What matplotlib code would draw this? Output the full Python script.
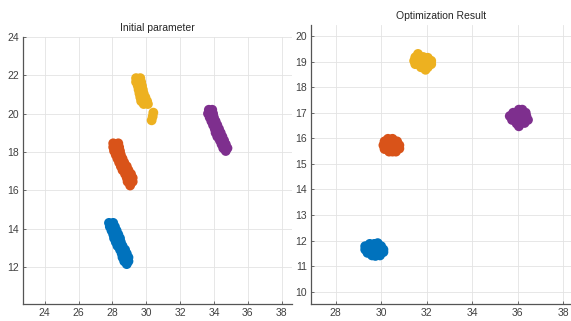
import matplotlib
matplotlib.use("Agg")
import matplotlib.pyplot as plt

plt.rcParams["font.family"] = ["Liberation Sans", "DejaVu Sans"]

# MATLAB default colour order
colors = ["#0072BD", "#D95319", "#EDB120", "#7E2F8E"]

# ---- Initial parameter (left) ----
init_blue_x = [27.8, 28.05, 27.85, 28.15, 27.95, 28.25, 28.05, 28.35, 28.1, 28.45,
               28.2, 28.5, 28.3, 28.6, 28.45, 28.75, 28.55, 28.85, 28.6, 28.95,
               28.7, 28.95, 28.85]
init_blue_y = [14.3, 14.3, 14.1, 14.1, 13.9, 13.9, 13.7, 13.7, 13.5, 13.5,
               13.3, 13.3, 13.1, 13.1, 12.9, 12.9, 12.7, 12.7, 12.5, 12.5,
               12.3, 12.3, 12.15]

init_orange_x = [28.05, 28.35, 28.05, 28.4, 28.1, 28.45, 28.2, 28.5, 28.3, 28.6,
                 28.4, 28.7, 28.5, 28.85, 28.6, 28.95, 28.75, 29.1, 28.85, 29.2,
                 28.9, 29.2, 29.05]
init_orange_y = [18.45, 18.45, 18.25, 18.25, 18.05, 18.05, 17.85, 17.85, 17.65, 17.65,
                 17.45, 17.45, 17.25, 17.25, 17.05, 17.05, 16.85, 16.85, 16.65, 16.65,
                 16.45, 16.45, 16.25]

init_yellow_x = [29.4, 29.65, 29.4, 29.7, 29.5, 29.75, 29.55, 29.8, 29.6, 29.85,
                 29.65, 29.95, 29.7, 30.05, 29.85, 30.1,
                 30.42, 30.38, 30.32]
init_yellow_y = [21.85, 21.85, 21.65, 21.65, 21.45, 21.45, 21.25, 21.25, 21.05, 21.05,
                 20.85, 20.85, 20.65, 20.65, 20.5, 20.5,
                 20.05, 19.85, 19.65]

init_purple_x = [33.7, 33.9, 33.65, 33.95, 33.75, 34.0, 33.85, 34.1, 33.95, 34.2,
                 34.05, 34.3, 34.1, 34.4, 34.2, 34.5, 34.35, 34.6, 34.45, 34.7,
                 34.55, 34.8, 34.7]
init_purple_y = [20.2, 20.2, 20.0, 20.0, 19.8, 19.8, 19.6, 19.6, 19.4, 19.4,
                 19.2, 19.2, 19.0, 19.0, 18.8, 18.8, 18.6, 18.6, 18.4, 18.4,
                 18.2, 18.2, 18.05]

# ---- Optimization Result (right) ----
opt_blue_x = [29.5, 29.7, 29.85,
              29.3, 29.45, 29.65, 29.85, 30.0,
              29.3, 29.45, 29.65, 29.85, 30.0, 30.1,
              29.4, 29.6, 29.8, 30.0, 30.1,
              29.6, 29.75, 29.95]
opt_blue_y = [11.87, 11.87, 11.9,
              11.78, 11.78, 11.78, 11.78, 11.78,
              11.65, 11.65, 11.65, 11.65, 11.65, 11.65,
              11.52, 11.52, 11.52, 11.52, 11.55,
              11.42, 11.4, 11.42]

opt_orange_x = [30.3, 30.5,
                30.15, 30.3, 30.5, 30.7,
                30.1, 30.25, 30.45, 30.65, 30.8,
                30.15, 30.3, 30.5, 30.7, 30.8,
                30.35, 30.5, 30.65]
opt_orange_y = [15.98, 15.98,
                15.88, 15.88, 15.88, 15.88,
                15.73, 15.73, 15.73, 15.73, 15.73,
                15.58, 15.58, 15.58, 15.58, 15.6,
                15.48, 15.48, 15.48]

opt_yellow_x = [31.62,
                31.5, 31.65, 31.85, 32.05,
                31.45, 31.6, 31.8, 32.0, 32.2,
                31.5, 31.65, 31.85, 32.05, 32.2,
                31.75, 31.9, 32.05,
                31.95]
opt_yellow_y = [19.3,
                19.17, 19.2, 19.18, 19.15,
                19.03, 19.03, 19.03, 19.03, 19.03,
                18.9, 18.9, 18.9, 18.9, 18.9,
                18.78, 18.75, 18.78,
                18.68]

opt_purple_x = [36.05, 36.2,
                35.8, 35.95, 36.15, 36.35,
                35.65, 35.8, 36.0, 36.2, 36.38,
                35.75, 35.9, 36.1, 36.3, 36.45,
                35.95, 36.1, 36.3,
                36.05]
opt_purple_y = [17.12, 17.12,
                17.0, 17.0, 17.0, 17.0,
                16.87, 16.87, 16.87, 16.87, 16.87,
                16.72, 16.72, 16.72, 16.72, 16.72,
                16.58, 16.58, 16.6,
                16.47]

fig = plt.figure(figsize=(5.71, 3.21), dpi=100)
ax1 = fig.add_axes([0.0403, 0.053, 0.4707, 0.832])
ax2 = fig.add_axes([0.5447, 0.053, 0.4553, 0.869])

for x, y, c in [(init_blue_x, init_blue_y, colors[0]),
                (init_orange_x, init_orange_y, colors[1]),
                (init_yellow_x, init_yellow_y, colors[2]),
                (init_purple_x, init_purple_y, colors[3])]:
    ax1.scatter(x, y, s=50, color=c, edgecolors="none", zorder=3)

for x, y, c in [(opt_blue_x, opt_blue_y, colors[0]),
                (opt_orange_x, opt_orange_y, colors[1]),
                (opt_yellow_x, opt_yellow_y, colors[2]),
                (opt_purple_x, opt_purple_y, colors[3])]:
    ax2.scatter(x, y, s=50, color=c, edgecolors="none", zorder=3)

# formatting (MATLAB-like look)
ax1.set_xlim(22.72, 38.6)
ax1.set_ylim(10.07, 24)
ax1.set_xticks(range(24, 39, 2))
ax1.set_yticks(range(12, 25, 2))
ax1.set_title("Initial parameter", fontsize=7.5, color="#262626", pad=4)

ax2.set_xlim(26.92, 38.34)
ax2.set_ylim(9.52, 20.43)
ax2.set_xticks(range(28, 39, 2))
ax2.set_yticks(range(10, 21, 1))
ax2.set_title("Optimization Result", fontsize=7.5, color="#262626", pad=4)

for ax in (ax1, ax2):
    ax.grid(True, color="#e3e3e3", linewidth=0.6, zorder=0)
    ax.set_axisbelow(True)
    ax.spines["top"].set_visible(False)
    ax.spines["right"].set_visible(False)
    ax.spines["left"].set_color("#555555")
    ax.spines["bottom"].set_color("#555555")
    ax.spines["left"].set_linewidth(0.9)
    ax.spines["bottom"].set_linewidth(0.9)
    ax.tick_params(direction="in", length=2.5, width=0.6, color="#555555",
                   labelsize=7.5, labelcolor="#404040", pad=3)

fig.savefig("out.png", dpi=100)
